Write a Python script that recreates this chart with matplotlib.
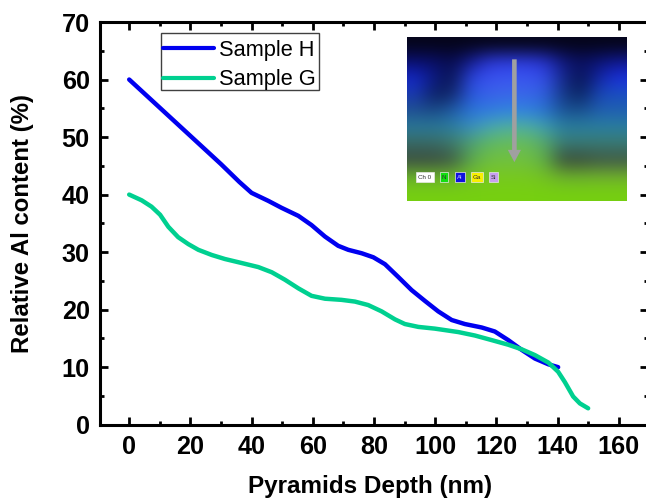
import numpy as np
import matplotlib
matplotlib.use("Agg")
import matplotlib.pyplot as plt
from matplotlib.colors import to_rgb
from matplotlib.patches import Rectangle, FancyArrow
from matplotlib.ticker import MultipleLocator

plt.rcParams['font.family'] = ['Liberation Sans', 'DejaVu Sans']

depth_h = [0, 10, 20, 30, 36, 40, 45.5, 49.8, 55.3, 59.6, 64, 68.3, 71.6, 76, 79.8, 83.6, 87.9, 92.3, 96.7, 101, 105.4, 109.7, 115.2, 119.5, 123.9, 128.3, 132.6, 137, 140.2]
sample_h = [60, 55.1, 50.2, 45.3, 42.2, 40.3, 38.9, 37.7, 36.3, 34.7, 32.7, 31.1, 30.4, 29.8, 29.1, 27.9, 25.7, 23.4, 21.5, 19.7, 18.2, 17.5, 16.9, 16.2, 14.7, 13.0, 11.5, 10.5, 10.0]
depth_g = [0, 4.1, 7.3, 10.1, 12.8, 16, 19.3, 22.6, 27, 31.3, 36.8, 42.2, 46.6, 50.9, 55.3, 59.6, 64, 69.4, 73.8, 78.1, 82.5, 86.9, 90.1, 94.5, 99.9, 107.6, 113, 118.5, 123.9, 128.3, 132.6, 137, 140.2, 142.4, 145.1, 147.3, 150]
sample_g = [40, 39, 37.9, 36.5, 34.4, 32.6, 31.4, 30.4, 29.5, 28.8, 28.1, 27.4, 26.5, 25.2, 23.7, 22.4, 21.9, 21.7, 21.4, 20.8, 19.7, 18.3, 17.5, 17.0, 16.7, 16.1, 15.5, 14.7, 13.9, 13.1, 12.1, 10.8, 9.2, 7.4, 4.9, 3.7, 2.85]

xlabel = "Pyramids Depth (nm)"
ylabel = "Relative Al content (%)"
x_ticks = [0, 20, 40, 60, 80, 100, 120, 140, 160]
y_ticks = [0, 10, 20, 30, 40, 50, 60, 70]
element_tags = ["Ch 0", "N", "Al", "Ga", "Si"]
tag_colors = ["#ffffff", "#10e010", "#1010e0", "#f8f000", "#c8a0f0"]

# Coarse colour map of the embedded micrograph
micrograph = [
    ["#05051a"] * 12,
    ["#0a0f70", "#0a0f68", "#080c50", "#141c90", "#2a36d8", "#2c3ae0", "#2c3ae0", "#2632d0", "#101880", "#0a0f60", "#0c1478", "#101890"],
    ["#1428c8", "#0c1a80", "#0a1650", "#2a44e0", "#3a52f0", "#3a56f0", "#3a56f0", "#344ee8", "#162a90", "#081450", "#1428a8", "#1a30e0"],
    ["#1a3ab0", "#0c2060", "#12286c", "#2a58e0", "#3a62e8", "#3a66e8", "#3a66e8", "#3060e0", "#153a88", "#0a2560", "#1a48b8", "#1a50c0"],
    ["#205090", "#1a4a88", "#205ca8", "#2a74d8", "#2f7ce0", "#2f84e0", "#2f84e0", "#2a74d0", "#1a5498", "#1a5090", "#2060b0", "#2060b0"],
    ["#2a7a9a", "#2a7a9a", "#2c80a0", "#3a90c0", "#48a8b0", "#50b0a0", "#50b0a0", "#40a0b0", "#2a80a0", "#2a80a0", "#2a80a0", "#2a80a0"],
    ["#3a6a60", "#3a6a60", "#3f7a68", "#50a070", "#60b860", "#68bc58", "#68bc58", "#58a868", "#3a7a70", "#3a7a70", "#3a7a70", "#3a7a70"],
    ["#3a4a40", "#3a4a40", "#3f5a44", "#5aa850", "#70c040", "#70c040", "#70c040", "#60b048", "#3a4a3a", "#3a4a3a", "#3f5545", "#3f5545"],
    ["#6ab030", "#6ab030", "#6ab030", "#74c024", "#78c820", "#78c820", "#78c820", "#74c024", "#6cb030", "#6cb030", "#70b030", "#70b030"],
    ["#76d010"] * 12,
]

W, H = 646, 503
fig = plt.figure(figsize=(W / 100, H / 100), dpi=100, facecolor="white")
L, R, T, B = 99.5, 647.5, 22.0, 424.7
ax = fig.add_axes([L / W, 1 - B / H, (R - L) / W, (B - T) / H])

ax.plot(depth_h, sample_h, color="#0000f0", lw=3.2, label="Sample H", solid_capstyle="round", solid_joinstyle="round")
ax.plot(depth_g, sample_g, color="#00d090", lw=3.2, label="Sample G", solid_capstyle="round", solid_joinstyle="round")

ax.set_xlim(-9.7, 169.4)
ax.set_ylim(0, 70)
ax.set_xticks(x_ticks)
ax.set_yticks(y_ticks)
ax.xaxis.set_minor_locator(MultipleLocator(10))
ax.yaxis.set_minor_locator(MultipleLocator(5))
ax.tick_params(which="major", direction="in", length=5.5, width=2, top=True, right=True)
ax.tick_params(which="minor", direction="in", length=2.8, width=2, top=True, right=True)
ax.tick_params(axis="x", which="major", pad=7.5)
ax.tick_params(axis="y", which="major", pad=7)
for s in ax.spines.values():
    s.set_linewidth(2.2)
for t in ax.get_xticklabels() + ax.get_yticklabels():
    t.set_fontsize(18.2)
    t.set_fontweight("bold")
ax.set_xlabel(xlabel, fontsize=17.5, fontweight="bold")
ax.set_ylabel(ylabel, fontsize=17.3, fontweight="bold")
ax.xaxis.set_label_coords((370.5 - L) / (R - L), -(487 - B) / (B - T), transform=ax.transAxes)
ax.xaxis.label.set_va("center")
ax.yaxis.set_label_coords((23 - L) / (R - L), (B - 223.5) / (B - T), transform=ax.transAxes)
ax.yaxis.label.set_va("center")

# Legend frame: 160.5-319 by 32.7-90 px
ax.add_patch(Rectangle(((160.5 - L) / (R - L), (B - 90) / (B - T)), (319 - 160.5) / (R - L), 57.3 / (B - T),
                       transform=ax.transAxes, facecolor="white", edgecolor="#404040", lw=1.0, zorder=4))
leg = ax.legend(loc="upper left", bbox_to_anchor=((160.5 - L) / (R - L), (B - 37.5) / (B - T)),
                fontsize=15.7, frameon=False,
                handlelength=2.35, handletextpad=0.2, labelspacing=0.38, borderpad=0.12, borderaxespad=0)
leg.set_zorder(5)
for h in leg.get_lines():
    h.set_linewidth(3)

# Inset micrograph
iL, iR, iT, iB = 406.7, 626.0, 36.7, 200.7
inset = fig.add_axes([iL / W, 1 - iB / H, (iR - iL) / W, (iB - iT) / H])
grid = np.array([[to_rgb(c) for c in row] for row in micrograph])
inset.imshow(grid, aspect="auto", interpolation="bicubic", extent=(0, 1, 1, 0), zorder=0)
inset.set_xlim(0, 1)
inset.set_ylim(1, 0)
inset.axis("off")

inset.add_patch(FancyArrow(0.491, 0.138, 0, 0.552, width=0.021, head_width=0.06, head_length=0.075,
                           length_includes_head=False, color="#a0a0a0", lw=0, zorder=3))
tag_x = [0.041, 0.152, 0.222, 0.293, 0.377]
tag_w = [0.084, 0.038, 0.044, 0.054, 0.038]
for x0, w0, name, col in zip(tag_x, tag_w, element_tags, tag_colors):
    inset.add_patch(Rectangle((x0, 0.827), w0, 0.057, facecolor=col, edgecolor="#e8e8e8", lw=0.5, zorder=3))
    inset.text(x0 + w0 / 2, 0.856, name, fontsize=4.5, ha="center", va="center", zorder=4,
               color="#303030" if name != "Al" else "#c0c0ff")

fig.savefig("out.png", dpi=100)
